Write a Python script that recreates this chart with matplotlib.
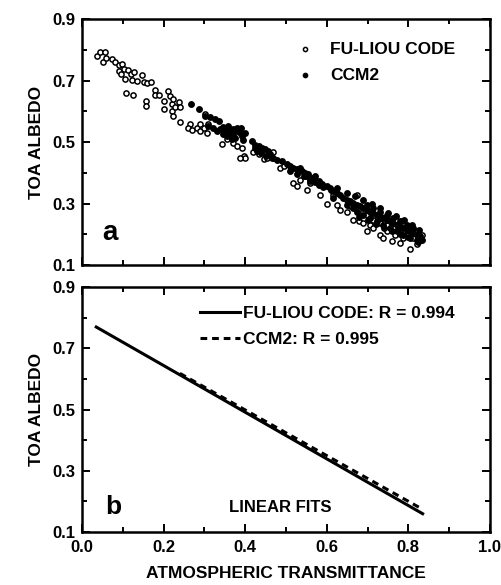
import matplotlib
matplotlib.use("Agg")
import matplotlib.pyplot as plt
import numpy as np
from matplotlib.ticker import MultipleLocator, FormatStrFormatter

plt.rcParams['font.family'] = ['Liberation Sans', 'DejaVu Sans']
plt.rcParams['font.weight'] = 'bold'

# ---- Panel a: scatter data ----
fl_x = [0.037, 0.045, 0.057, 0.051, 0.060, 0.073, 0.082, 0.090, 0.098, 0.090, 0.096, 0.104, 0.114,
        0.120, 0.127, 0.105, 0.122, 0.135, 0.147, 0.151, 0.159, 0.169, 0.109, 0.125, 0.157, 0.157,
        0.180, 0.178, 0.188, 0.200, 0.200, 0.212, 0.216, 0.220, 0.224, 0.220, 0.229, 0.237, 0.241,
        0.223, 0.241, 0.265, 0.261, 0.269, 0.282, 0.290, 0.298, 0.302, 0.306, 0.290, 0.310, 0.343,
        0.355, 0.371, 0.381, 0.392, 0.396, 0.400, 0.388, 0.420, 0.433, 0.445, 0.453, 0.465, 0.469,
        0.486, 0.494, 0.518, 0.527, 0.535, 0.551, 0.559, 0.584, 0.600, 0.616, 0.624, 0.633, 0.649,
        0.657, 0.665, 0.673, 0.682, 0.678, 0.690, 0.698, 0.706, 0.714, 0.731, 0.739, 0.747, 0.759,
        0.767, 0.780, 0.784, 0.788, 0.798, 0.804, 0.800, 0.812, 0.816, 0.820, 0.829, 0.833, 0.682,
        0.698, 0.714, 0.731, 0.747, 0.763, 0.776]
fl_y = [0.779, 0.793, 0.793, 0.760, 0.774, 0.771, 0.760, 0.749, 0.755, 0.731, 0.720, 0.738, 0.733,
        0.720, 0.728, 0.706, 0.702, 0.700, 0.717, 0.695, 0.692, 0.695, 0.659, 0.654, 0.633, 0.618,
        0.670, 0.654, 0.654, 0.633, 0.607, 0.667, 0.651, 0.622, 0.640, 0.602, 0.613, 0.629, 0.615,
        0.586, 0.564, 0.558, 0.547, 0.539, 0.547, 0.536, 0.545, 0.591, 0.530, 0.558, 0.558, 0.493,
        0.509, 0.498, 0.487, 0.482, 0.455, 0.447, 0.449, 0.466, 0.460, 0.444, 0.449, 0.449, 0.466,
        0.416, 0.422, 0.367, 0.356, 0.378, 0.345, 0.367, 0.329, 0.298, 0.329, 0.296, 0.280, 0.274,
        0.291, 0.247, 0.329, 0.264, 0.242, 0.236, 0.209, 0.231, 0.220, 0.198, 0.187, 0.209, 0.178,
        0.198, 0.171, 0.242, 0.187, 0.198, 0.152, 0.222, 0.187, 0.209, 0.167, 0.182, 0.198, 0.285,
        0.264, 0.247, 0.236, 0.231, 0.220, 0.209]

ccm_x = [0.268, 0.288, 0.302, 0.314, 0.327, 0.335, 0.310, 0.322, 0.339, 0.347, 0.359, 0.363, 0.371,
         0.380, 0.384, 0.392, 0.355, 0.367, 0.376, 0.416, 0.424, 0.433, 0.441, 0.449, 0.457, 0.469,
         0.478, 0.490, 0.502, 0.510, 0.518, 0.527, 0.535, 0.539, 0.547, 0.555, 0.563, 0.571, 0.580,
         0.588, 0.600, 0.608, 0.616, 0.624, 0.633, 0.641, 0.649, 0.657, 0.665, 0.673, 0.682, 0.690,
         0.698, 0.706, 0.714, 0.722, 0.731, 0.739, 0.747, 0.755, 0.763, 0.771, 0.780, 0.788, 0.796,
         0.804, 0.812, 0.820, 0.829, 0.833, 0.824, 0.673, 0.690, 0.706, 0.722, 0.739, 0.755, 0.771,
         0.788, 0.804, 0.698, 0.714, 0.731, 0.747, 0.763, 0.780, 0.796, 0.812, 0.510, 0.527, 0.543,
         0.559, 0.665, 0.649, 0.616, 0.624,
         0.650, 0.670, 0.690, 0.710, 0.730, 0.750, 0.770, 0.790, 0.810, 0.825,
         0.680, 0.700, 0.720, 0.740, 0.760, 0.780, 0.800, 0.820,
         0.345, 0.352, 0.360, 0.370, 0.375, 0.390, 0.395, 0.400, 0.330, 0.345,
         0.430, 0.440, 0.450, 0.460, 0.425,
         0.550, 0.560, 0.570, 0.580, 0.590, 0.610]
ccm_y = [0.622, 0.607, 0.585, 0.580, 0.574, 0.569, 0.552, 0.547, 0.542, 0.536, 0.553, 0.531, 0.542,
         0.547, 0.531, 0.520, 0.520, 0.509, 0.514, 0.504, 0.482, 0.487, 0.482, 0.476, 0.471, 0.449,
         0.440, 0.438, 0.427, 0.422, 0.416, 0.411, 0.416, 0.405, 0.400, 0.395, 0.384, 0.389, 0.373,
         0.362, 0.356, 0.351, 0.340, 0.334, 0.329, 0.318, 0.313, 0.307, 0.302, 0.296, 0.291, 0.285,
         0.280, 0.274, 0.269, 0.264, 0.258, 0.253, 0.247, 0.242, 0.236, 0.231, 0.225, 0.220, 0.214,
         0.209, 0.203, 0.198, 0.193, 0.182, 0.176, 0.274, 0.264, 0.253, 0.242, 0.231, 0.220, 0.209,
         0.198, 0.187, 0.296, 0.285, 0.274, 0.264, 0.253, 0.242, 0.231, 0.220, 0.405, 0.395, 0.389,
         0.373, 0.285, 0.296, 0.318, 0.351,
         0.335, 0.325, 0.310, 0.300, 0.285, 0.270, 0.260, 0.245, 0.230, 0.215,
         0.255, 0.245, 0.232, 0.220, 0.210, 0.200, 0.190, 0.180,
         0.550, 0.540, 0.525, 0.520, 0.535, 0.545, 0.505, 0.530, 0.535, 0.525,
         0.470, 0.465, 0.455, 0.460, 0.490,
         0.390, 0.375, 0.370, 0.360, 0.355, 0.345]

# ---- Panel b: linear fits ----
fl_fit_x = [0.035, 0.835]
fl_slope, fl_icpt = -0.762, 0.796
ccm_fit_x = [0.24, 0.835]
ccm_slope, ccm_icpt = -0.746, 0.797
fl_label = "FU-LIOU CODE: R = 0.994"
ccm_label = "CCM2: R = 0.995"

FS = 12.5
fig = plt.figure(figsize=(5.02, 5.85), dpi=100)
ax1 = fig.add_axes([0.1633, 0.547, 0.8127, 0.4205])
ax2 = fig.add_axes([0.1633, 0.0906, 0.8127, 0.4188])

def style(ax, showx):
    ax.set_xlim(0, 1.0)
    ax.set_ylim(0.1, 0.9)
    ax.xaxis.set_major_locator(MultipleLocator(0.2))
    ax.xaxis.set_minor_locator(MultipleLocator(0.1))
    ax.set_yticks([0.1, 0.3, 0.5, 0.7, 0.9])
    ax.set_yticks([0.2, 0.4, 0.6, 0.8], minor=True)
    ax.xaxis.set_major_formatter(FormatStrFormatter('%.1f'))
    ax.yaxis.set_major_formatter(FormatStrFormatter('%.1f'))
    ax.tick_params(which='both', direction='in', top=True, right=True, width=1.4, labelsize=12)
    ax.tick_params(which='major', length=6)
    ax.tick_params(axis='y', which='major', pad=5)
    ax.tick_params(axis='x', which='major', pad=6)
    ax.tick_params(which='minor', length=3.5)
    for s in ax.spines.values():
        s.set_linewidth(1.8)
    if not showx:
        ax.tick_params(labelbottom=False)
    for lab in ax.get_xticklabels() + ax.get_yticklabels():
        lab.set_fontweight('bold')
    ax.set_ylabel("TOA ALBEDO", fontsize=FS, fontweight='bold', labelpad=6)

style(ax1, False)
style(ax2, True)

ax1.scatter(fl_x, fl_y, s=14, facecolors='white', edgecolors='black', linewidths=1.1,
            label="FU-LIOU CODE", zorder=2)
ax1.scatter(ccm_x, ccm_y, s=17, facecolors='black', edgecolors='black', linewidths=0.8,
            label="CCM2", zorder=3)
ax1.legend(loc='upper left', bbox_to_anchor=(0.491, 0.972), frameon=False,
           handlelength=0.8, handletextpad=1.04, labelspacing=0.62, scatterpoints=1,
           markerscale=0.8, prop={'weight': 'bold', 'size': FS})
ax1.text(0.069, 0.204, "a", fontsize=20, fontweight='bold', ha='center', va='center')

xs = np.array(fl_fit_x)
ax2.plot(xs, fl_slope * xs + fl_icpt, color='black', lw=2.2, label=fl_label)
xs2 = np.array(ccm_fit_x)
ax2.plot(xs2, ccm_slope * xs2 + ccm_icpt, color='black', lw=2.2, ls=(0, (2.2, 1.6)), label=ccm_label)
ax2.legend(loc='upper left', bbox_to_anchor=(0.251, 0.985), frameon=False,
           handlelength=2.3, handletextpad=0.2, labelspacing=0.58,
           prop={'weight': 'bold', 'size': FS})
ax2.text(0.076, 0.181, "b", fontsize=19, fontweight='bold', ha='center', va='center')
ax2.text(0.485, 0.181, "LINEAR FITS", fontsize=12, fontweight='bold', ha='center', va='center')
ax2.set_xlabel("ATMOSPHERIC TRANSMITTANCE", fontsize=FS, fontweight='bold', labelpad=8)

fig.savefig("out.png", dpi=100)
